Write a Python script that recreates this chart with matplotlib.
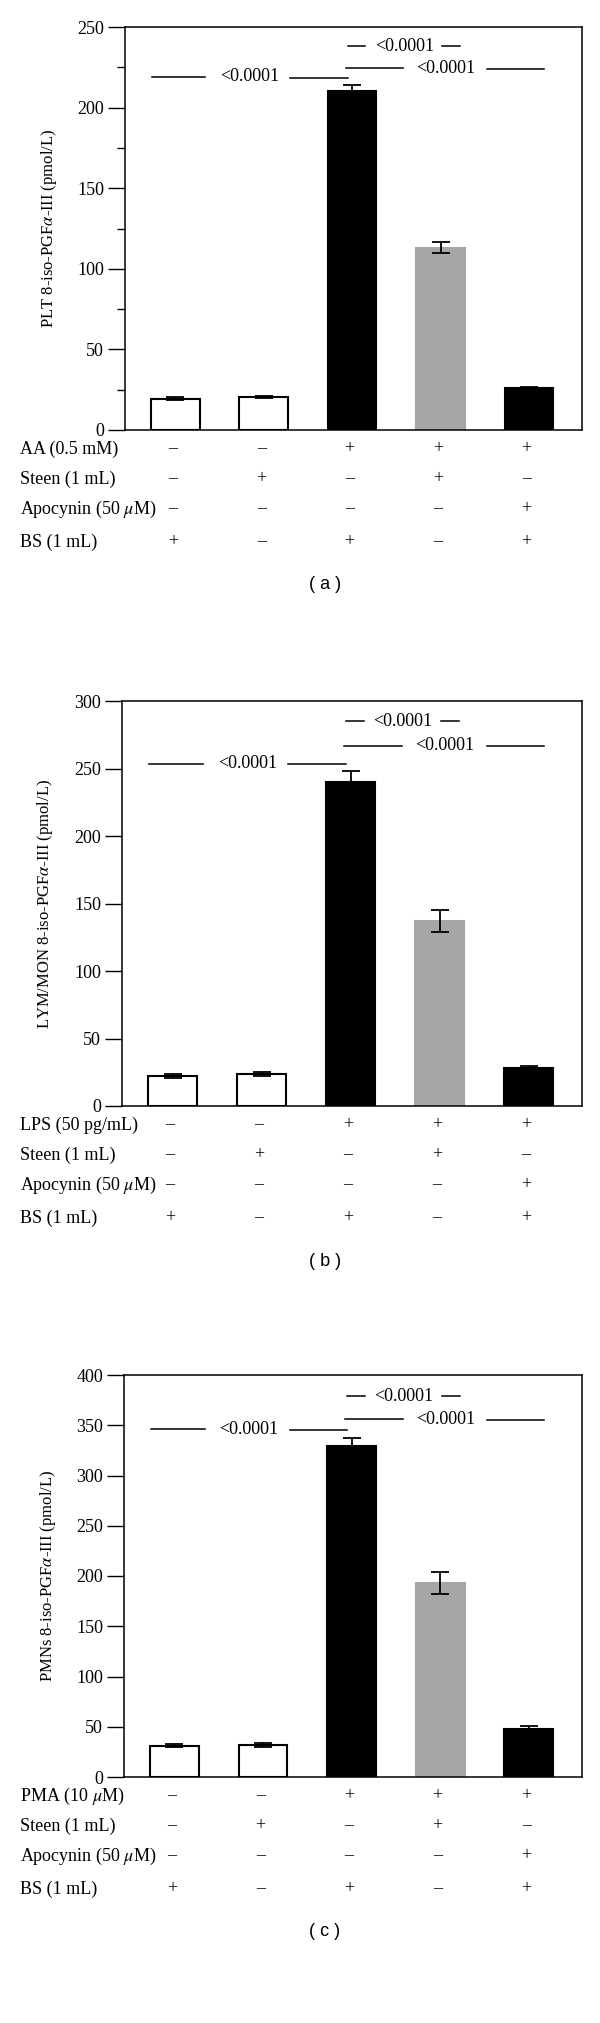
import matplotlib
matplotlib.use("Agg")
import matplotlib.pyplot as plt
from matplotlib.transforms import blended_transform_factory

plt.rcParams['font.family'] = ['Liberation Serif', 'DejaVu Serif']
plt.rcParams['mathtext.fontset'] = 'stix'

W, H = 600, 2023

# data
groups = [0, 1, 2, 3, 4]
colors = ['white', 'white', 'black', '#a6a6a6', 'black']
edges = ['black', 'black', 'black', '#a6a6a6', 'black']

plt_vals = [19.5, 20.5, 210, 113, 26]
plt_err = [0.8, 0.7, 4, 3.5, 0.4]

lym_vals = [22, 23.5, 240, 137, 28]
lym_err = [1.5, 1.5, 8, 8, 1.5]

pmn_vals = [31, 32, 329, 193, 48]
pmn_err = [1.5, 2, 8, 11, 3]

row_labels_a = ['AA (0.5 mM)', 'Steen (1 mL)', r'Apocynin (50 $\mu$M)', 'BS (1 mL)']
row_labels_b = ['LPS (50 pg/mL)', 'Steen (1 mL)', r'Apocynin (50 $\mu$M)', 'BS (1 mL)']
row_labels_c = [r'PMA (10 $\mu$M)', 'Steen (1 mL)', r'Apocynin (50 $\mu$M)', 'BS (1 mL)']
signs = [['–', '–', '+', '+', '+'],
         ['–', '+', '–', '+', '–'],
         ['–', '–', '–', '–', '+'],
         ['+', '–', '+', '–', '+']]

# significance heights: (bracket 1, top, middle)
sig_a = [219, 238, 224.5]
sig_b = [253.5, 285, 267]
sig_c = [346, 379, 356]

panels = [
    dict(vals=plt_vals, err=plt_err, ymax=250, major=50, minor=25, sig=sig_a,
         ylabel=r'PLT 8-iso-PGF$\alpha$-III (pmol/L)', rows=row_labels_a,
         box=(125, 27, 582, 430), tag='( a )'),
    dict(vals=lym_vals, err=lym_err, ymax=300, major=50, minor=None, sig=sig_b,
         ylabel=r'LYM/MON 8-iso-PGF$\alpha$-III (pmol/L)', rows=row_labels_b,
         box=(122, 701, 582, 1106), tag='( b )'),
    dict(vals=pmn_vals, err=pmn_err, ymax=400, major=50, minor=None, sig=sig_c,
         ylabel=r'PMNs 8-iso-PGF$\alpha$-III (pmol/L)', rows=row_labels_c,
         box=(124, 1375, 582, 1777), tag='( c )'),
]

fig = plt.figure(figsize=(W / 100, H / 100), dpi=100)

row_off = [19, 49, 79, 112]
fs = 13

for p in panels:
    x0, y0, x1, y1 = p['box']
    ax = fig.add_axes([x0 / W, 1 - y1 / H, (x1 - x0) / W, (y1 - y0) / H])
    ax.bar(groups, p['vals'], width=0.55, color=colors, edgecolor=edges, linewidth=1.5, zorder=2)
    ax.errorbar(groups, p['vals'], yerr=p['err'], fmt='none', ecolor='black',
                elinewidth=1.3, capsize=6.5, capthick=1.3, zorder=3)
    ax.set_xlim(-0.57, 4.6)
    ax.set_ylim(0, p['ymax'])
    ax.set_yticks(range(0, p['ymax'] + 1, p['major']))
    if p['minor']:
        ax.set_yticks(range(p['minor'], p['ymax'], p['major']), minor=True)
    ax.tick_params(axis='y', which='major', direction='out', length=12, width=1, labelsize=fs, pad=3)
    ax.tick_params(axis='y', which='minor', direction='out', length=6, width=1)
    ax.set_xticks([])
    for s in ax.spines.values():
        s.set_linewidth(1.1)
    ax.set_ylabel(p['ylabel'], fontsize=12)
    ax.yaxis.set_label_coords(-0.145, 0.5)

    # significance lines
    h1, h2, h3 = p['sig']
    lw = 1.1
    ax.plot([-0.27, 0.34], [h1, h1], color='black', lw=lw)
    ax.plot([1.30, 1.95], [h1 - 0.5, h1 - 0.5], color='black', lw=lw)
    ax.text(0.84, h1, '<0.0001', ha='center', va='center', fontsize=fs)
    ax.plot([1.95, 2.15], [h2, h2], color='black', lw=lw)
    ax.plot([3.02, 3.22], [h2, h2], color='black', lw=lw)
    ax.text(2.59, h2, '<0.0001', ha='center', va='center', fontsize=fs)
    ax.plot([1.93, 2.58], [h3, h3], color='black', lw=lw)
    ax.plot([3.53, 4.17], [h3 - 0.5, h3 - 0.5], color='black', lw=lw)
    ax.text(3.06, h3, '<0.0001', ha='center', va='center', fontsize=fs)

    # treatment rows
    tr = blended_transform_factory(ax.transData, fig.transFigure)
    for r, (lab, row) in enumerate(zip(p['rows'], signs)):
        yy = 1 - (y1 + row_off[r]) / H
        fig.text(20 / W, yy, lab, ha='left', va='center', fontsize=fs)
        for g, s in zip(groups, row):
            ax.text(g - 0.03, yy, s, transform=tr, ha='center', va='center', fontsize=fs)

    fig.text(325 / W, 1 - (y1 + 155) / H, p['tag'],
             ha='center', va='center', fontsize=13, family=['Liberation Sans', 'DejaVu Sans'])

fig.savefig('out.png', dpi=100)
